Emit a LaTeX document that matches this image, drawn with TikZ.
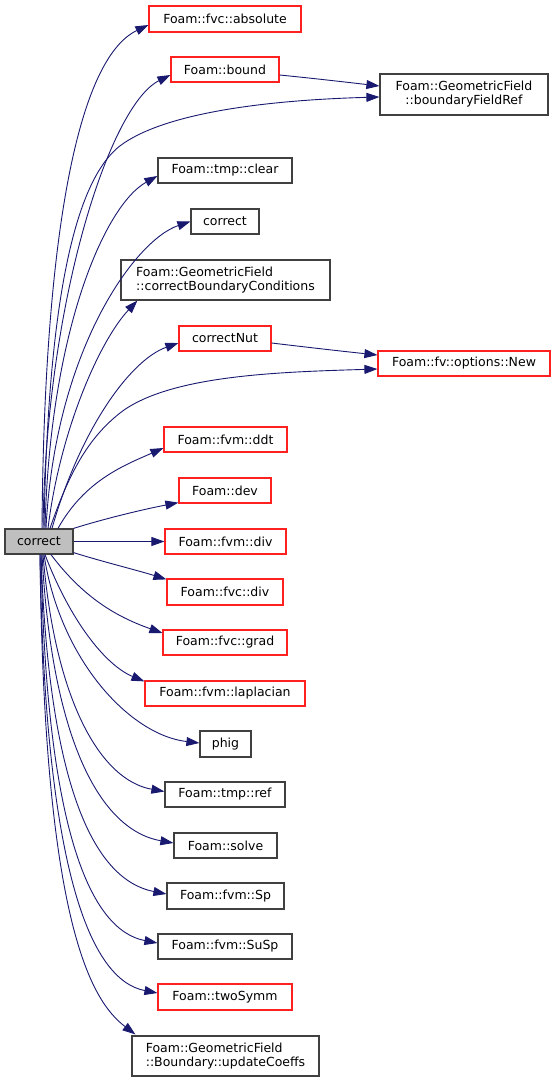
\documentclass[tikz,border=0pt]{standalone}
\usepackage{fontspec}
\setmainfont{DejaVu Sans}
\usetikzlibrary{arrows.meta}
\definecolor{edgeblue}{HTML}{191970}
\definecolor{boxgrey}{HTML}{404040}
\definecolor{rootfill}{HTML}{BFBFBF}
\definecolor{boxred}{HTML}{FF2020}
\tikzset{
  fn/.style={draw=boxgrey, line width=1.2pt, fill=white, inner sep=0pt, font=\fontsize{12.5}{14}\selectfont, align=center},
  fnred/.style={fn, draw=boxred},
  rootbox/.style={fn, fill=rootfill},
  edge/.style={draw=edgeblue, line width=0.9pt, -{Triangle[length=13pt,width=9pt]}},
}
\begin{document}
\begin{tikzpicture}[x=1pt,y=-1pt]
\useasboundingbox (0,0) rectangle (551,1082);
% nodes
\node[rootbox, minimum width=68pt, minimum height=25pt] (root) at (39,541.5) {correct};
\node[fnred, minimum width=152pt, minimum height=26pt] (absolute) at (225,19) {Foam::fvc::absolute};
\node[fnred, minimum width=108pt, minimum height=25pt] (bound) at (225,69.5) {Foam::bound};
\node[fn, minimum width=168pt, minimum height=41pt] (bfr) at (464,94.5) {Foam::GeometricField\\::boundaryFieldRef};
\node[fn, minimum width=134pt, minimum height=25pt] (clear) at (225,170.5) {Foam::tmp::clear};
\node[fn, minimum width=68pt, minimum height=25pt] (correct2) at (225,221.5) {correct};
\node[fn, minimum width=209pt, minimum height=40pt, align=left] (cbc) at (225.5,280) {Foam::GeometricField\\::correctBoundaryConditions};
\node[fnred, minimum width=92pt, minimum height=25pt] (cnut) at (225,338.5) {correctNut};
\node[fnred, minimum width=172pt, minimum height=25pt] (new) at (464,363.5) {Foam::fv::options::New};
\node[fnred, minimum width=123pt, minimum height=25pt] (ddt) at (225.5,439.5) {Foam::fvm::ddt};
\node[fnred, minimum width=92pt, minimum height=25pt] (dev) at (225,490.5) {Foam::dev};
\node[fnred, minimum width=121pt, minimum height=25pt] (fvmdiv) at (225.5,541.5) {Foam::fvm::div};
\node[fnred, minimum width=116pt, minimum height=26pt] (fvcdiv) at (225,592) {Foam::fvc::div};
\node[fnred, minimum width=124pt, minimum height=25pt] (grad) at (225,642.5) {Foam::fvc::grad};
\node[fnred, minimum width=160pt, minimum height=25pt] (lap) at (225,693.5) {Foam::fvm::laplacian};
\node[fn, minimum width=51pt, minimum height=26pt] (phig) at (225.5,744) {phig};
\node[fn, minimum width=120pt, minimum height=25pt] (ref) at (225,794.5) {Foam::tmp::ref};
\node[fn, minimum width=103pt, minimum height=25pt] (solve) at (225.5,845.5) {Foam::solve};
\node[fn, minimum width=117pt, minimum height=26pt] (sp) at (225.5,896) {Foam::fvm::Sp};
\node[fn, minimum width=134pt, minimum height=25pt] (susp) at (225,946.5) {Foam::fvm::SuSp};
\node[fnred, minimum width=134pt, minimum height=26pt] (twosymm) at (225,997) {Foam::twoSymm};
\node[fn, minimum width=187pt, minimum height=40pt, align=left] (upd) at (225.5,1056) {Foam::GeometricField\\::Boundary::updateCoeffs};
% edges upward
\draw[edge] ([xshift=3pt]root.north) .. controls (44,250) and (75,60) .. ([yshift=-6pt]absolute.west);
\draw[edge] ([xshift=4pt]root.north) .. controls (46,300) and (110,105) .. ([yshift=-5.5pt]bound.west);
\draw[edge] ([xshift=5pt]root.north) .. controls (48,300) and (75,175) .. (124,143) .. controls (170,112) and (270,100) .. ([yshift=-2.5pt]bfr.west);
\draw[edge] ([xshift=6pt]root.north) .. controls (50,330) and (105,205) .. ([yshift=-5.5pt]clear.west);
\draw[edge] ([xshift=7pt]root.north) .. controls (55,350) and (135,240) .. (correct2.west);
\draw[edge] ([xshift=9pt]root.north) .. controls (60,430) and (100,340) .. ([xshift=17pt]cbc.south west);
\draw[edge] ([xshift=13pt]root.north) .. controls (80,430) and (130,360) .. ([yshift=-4.5pt]cnut.west);
\draw[edge] ([xshift=11pt]root.north) .. controls (70,470) and (90,435) .. (124,410) .. controls (175,375) and (280,372) .. ([yshift=-5.5pt]new.west);
\draw[edge] ([xshift=19pt]root.north) .. controls (85,480) and (125,465) .. ([yshift=-8.5pt]ddt.west);
\draw[edge] (root.north east) .. controls (100,520) and (140,510) .. ([yshift=1pt]dev.south west);
\draw[edge] (root.east) -- (fvmdiv.west);
% edges downward
\draw[edge] ([yshift=2pt]root.south east) .. controls (100,561) and (140,571) .. ([yshift=-1pt]fvcdiv.north west);
\draw[edge] ([xshift=12pt]root.south) .. controls (85,600) and (120,618) .. ([yshift=9.5pt]grad.west);
\draw[edge] ([xshift=6pt]root.south) .. controls (70,620) and (105,665) .. ([yshift=-1pt]lap.north west);
\draw[edge] ([xshift=5pt]root.south) .. controls (60,660) and (130,735) .. ([yshift=1pt]phig.west);
\draw[edge] ([xshift=4pt]root.south) .. controls (55,700) and (100,780) .. ([yshift=3pt]ref.west);
\draw[edge] ([xshift=3pt]root.south) .. controls (52,740) and (100,830) .. ([yshift=2.5pt]solve.west);
\draw[edge] ([xshift=2pt]root.south) .. controls (49,790) and (95,880) .. ([yshift=2pt]sp.west);
\draw[edge] ([xshift=2pt]root.south) .. controls (46,830) and (90,930) .. ([yshift=3.5pt]susp.west);
\draw[edge] ([xshift=1pt]root.south) .. controls (45,870) and (90,980) .. ([yshift=4pt]twosymm.west);
\draw[edge] ([xshift=1pt]root.south) .. controls (44,920) and (90,1000) .. ([xshift=4pt,yshift=1pt]upd.north west);
% second-level edges
\draw[edge] ([yshift=-5.5pt]bound.east) .. controls (310,78) and (345,82) .. ([yshift=8.5pt]bfr.west);
\draw[edge] ([yshift=-4.5pt]cnut.east) .. controls (305,347) and (340,351) .. ([yshift=8.5pt]new.west);
\end{tikzpicture}
\end{document}
